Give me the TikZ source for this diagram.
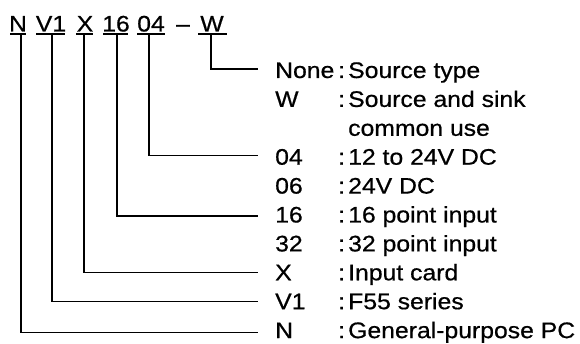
\documentclass[tikz,border=0pt]{standalone}
\usepackage{fontspec}
\setmainfont[FakeStretch=1.1,FakeBold=0.6]{Liberation Sans}
\begin{document}
\begin{tikzpicture}[x=1pt,y=-1pt,
  txt/.style={inner sep=0pt,anchor=base west,font=\fontsize{22.5}{26}\selectfont},
  hdr/.style={inner sep=0pt,anchor=base,font=\fontsize{22.5}{26}\selectfont},
  conn/.style={line width=1.3pt,line cap=rect},
  uline/.style={line width=1.3pt}]
\useasboundingbox (0,0) rectangle (580,344);
% header
\node[hdr] (hN)  at (18,31.5) {N};
\node[hdr] (hV)  at (51,31.5) {V1};
\node[hdr] (hX)  at (85,31.5) {X};
\node[hdr] (h16) at (116,31.5) {16};
\node[hdr] (h04) at (151,31.5) {04};
\node[hdr] (hD)  at (183,31.5) {–};
\node[hdr] (hW)  at (212,31.5) {W};
\draw[uline] (10,34) -- (26,34);
\draw[uline] (36,34) -- (65,34);
\draw[uline] (76,34) -- (93,34);
\draw[uline] (103,34) -- (128,34);
\draw[uline] (137,34) -- (165,34);
\draw[uline] (198,34) -- (227,34);
\coordinate (uN)  at (21,34);
\coordinate (uV)  at (52,34);
\coordinate (uX)  at (84,34);
\coordinate (u16) at (117,34);
\coordinate (u04) at (149,34);
\coordinate (uW)  at (211,34);
% rows
\foreach \i/\code/\desc/\nm in {0/None/Source type/r0,1/W/Source and sink/r1,3/04/12 to 24V DC/r3,4/06/24V DC/r4,5/16/16 point input/r5,6/32/32 point input/r6,7/X/Input card/r7,8/V1/F55 series/r8,9/N/General-purpose PC/r9}{
  \node[txt] (\nm c) at (275,78+28.9*\i) {\code};
  \node[txt] (\nm k) at (338,78+28.9*\i) {:};
  \node[txt] (\nm d) at (348,78+28.9*\i) {\desc};
}
\node[txt] (r2d) at (348,78+28.9*2) {common use};
% connector ends
\coordinate (eW)  at (257,69);
\coordinate (e04) at (257,155.5);
\coordinate (e16) at (257,216);
\coordinate (eX)  at (257,272.5);
\coordinate (eV)  at (257,301.5);
\coordinate (eN)  at (257,332.5);
\draw[conn] (uW)  |- (eW);
\draw[conn] (u04) |- (e04);
\draw[conn] (u16) |- (e16);
\draw[conn] (uX)  |- (eX);
\draw[conn] (uV)  |- (eV);
\draw[conn] (uN)  |- (eN);
\end{tikzpicture}
\end{document}
